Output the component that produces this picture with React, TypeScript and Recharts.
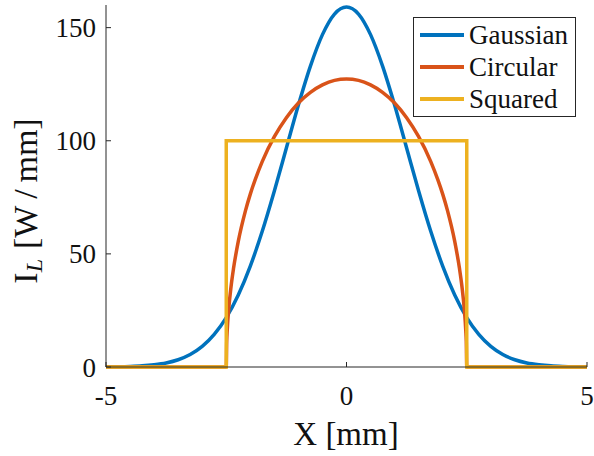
import { LineChart, Line, XAxis, YAxis } from "recharts";

// Gaussian profile, read at 0.25 mm steps
const gaussX = [
  -5, -4.75, -4.5, -4.25, -4, -3.75, -3.5, -3.25, -3, -2.75, -2.5, -2.25, -2, -1.75,
  -1.5, -1.25, -1, -0.75, -0.5, -0.25, 0, 0.25, 0.5, 0.75, 1, 1.25, 1.5, 1.75, 2,
  2.25, 2.5, 2.75, 3, 3.25, 3.5, 3.75, 4, 4.25, 4.5, 4.75, 5,
];
const gaussY = [
  0.06, 0.12, 0.25, 0.5, 1.0, 1.8, 3.2, 5.5, 9.1, 14.4, 21.8, 31.8, 44.6, 60.1, 77.8,
  96.8, 115.8, 133.0, 146.9, 156.0, 159.1, 156.0, 146.9, 133.0, 115.8, 96.8, 77.8,
  60.1, 44.6, 31.8, 21.8, 14.4, 9.1, 5.5, 3.2, 1.8, 1.0, 0.5, 0.25, 0.12, 0.06,
];

// Circular profile
const circX = [
  -5, -2.5, -2.49, -2.48, -2.45, -2.4, -2.35, -2.25, -2.1, -2, -1.9, -1.75, -1.5,
  -1.25, -1, -0.75, -0.5, -0.25, 0, 0.25, 0.5, 0.75, 1, 1.25, 1.5, 1.75, 1.9, 2,
  2.1, 2.25, 2.35, 2.4, 2.45, 2.48, 2.49, 2.5, 5,
];
const circY = [
  0, 0, 11.4, 16.1, 25.3, 35.6, 43.4, 55.5, 69.1, 76.4, 82.7, 90.9, 101.8, 110.2,
  116.7, 121.4, 124.7, 126.7, 127.3, 126.7, 124.7, 121.4, 116.7, 110.2, 101.8, 90.9,
  82.7, 76.4, 69.1, 55.5, 43.4, 35.6, 25.3, 16.1, 11.4, 0, 0,
];

// Squared (top-hat) profile
const squareX = [-5, -2.5, -2.5, 2.5, 2.5, 5];
const squareY = [0, 0, 100, 100, 0, 0];

const xTicks = [-5, 0, 5];
const yTicks = [0, 50, 100, 150];

const seriesNames = ["Gaussian", "Circular", "Squared"];
const seriesColors = ["#0072BD", "#D95319", "#EDB120"];

const toPoints = (xs: number[], ys: number[]) => xs.map((x, i) => ({ x, y: ys[i] }));

const gaussData = toPoints(gaussX, gaussY);
const circData = toPoints(circX, circY);
const squareData = toPoints(squareX, squareY);

const FONT = "'Liberation Serif', 'Times New Roman', serif";
const AXIS = "#262626";

const XLabel = () => (
  <text x={346} y={445} textAnchor="middle" fontFamily={FONT} fontSize={33} fill="#111">
    X [mm]
  </text>
);

const YLabel = () => (
  <text
    transform="translate(37,201) rotate(-90)"
    textAnchor="middle"
    fontFamily={FONT}
    fontSize={34}
    fill="#111"
  >
    <tspan>I</tspan>
    <tspan fontStyle="italic" fontSize={24} dy={5}>
      L
    </tspan>
    <tspan dy={-5} dx={10}>
      {"[W\u2009/\u2009mm]"}
    </tspan>
  </text>
);

export default function App() {
  return (
    <div style={{ position: "absolute", left: 0, top: 0, width: 594, height: 456, background: "#fff" }}>
      <LineChart width={594} height={456} margin={{ top: 5, right: 7, left: 0, bottom: 0 }}>
        <XAxis
          type="number"
          dataKey="x"
          domain={[-5, 5]}
          ticks={xTicks}
          interval={0}
          height={89}
          tickSize={-5}
          tickMargin={24}
          stroke={AXIS}
          tick={{ fontSize: 27, fontFamily: FONT, fill: "#111" }}
          label={{ content: XLabel }}
        />
        <XAxis
          xAxisId="top"
          orientation="top"
          type="number"
          dataKey="x"
          domain={[-5, 5]}
          ticks={xTicks}
          height={0}
          tickSize={-5}
          tick={false}
          stroke={AXIS}
        />
        <YAxis
          type="number"
          domain={[0, 160]}
          ticks={yTicks}
          interval={0}
          width={106}
          tickSize={-5}
          tickMargin={15}
          stroke={AXIS}
          tick={{ fontSize: 27, fontFamily: FONT, fill: "#111" }}
          label={{ content: YLabel }}
        />
        <YAxis
          yAxisId="right"
          orientation="right"
          type="number"
          domain={[0, 160]}
          ticks={yTicks}
          width={0}
          tickSize={-5}
          tick={false}
          stroke={AXIS}
        />
        <Line
          data={gaussData}
          dataKey="y"
          type="monotone"
          stroke={seriesColors[0]}
          strokeWidth={3.5}
          dot={false}
          isAnimationActive={false}
        />
        <Line
          data={circData}
          dataKey="y"
          type="monotone"
          stroke={seriesColors[1]}
          strokeWidth={3.5}
          dot={false}
          isAnimationActive={false}
        />
        <Line
          data={squareData}
          dataKey="y"
          type="linear"
          stroke={seriesColors[2]}
          strokeWidth={3.5}
          dot={false}
          isAnimationActive={false}
        />
      </LineChart>
      <div
        style={{
          position: "absolute",
          left: 413,
          top: 17,
          width: 161,
          height: 98,
          border: `1px solid ${AXIS}`,
          background: "#fff",
          fontFamily: FONT,
          fontSize: 27,
          color: "#111",
          boxSizing: "content-box",
        }}
      >
        {seriesNames.map((name, i) => (
          <div key={name} style={{ display: "flex", alignItems: "center", height: 32, marginTop: i === 0 ? 1 : 0 }}>
            <div style={{ width: 44, height: 4, marginLeft: 6, marginRight: 5, background: seriesColors[i] }} />
            <span style={{ lineHeight: "32px" }}>{name}</span>
          </div>
        ))}
      </div>
    </div>
  );
}
